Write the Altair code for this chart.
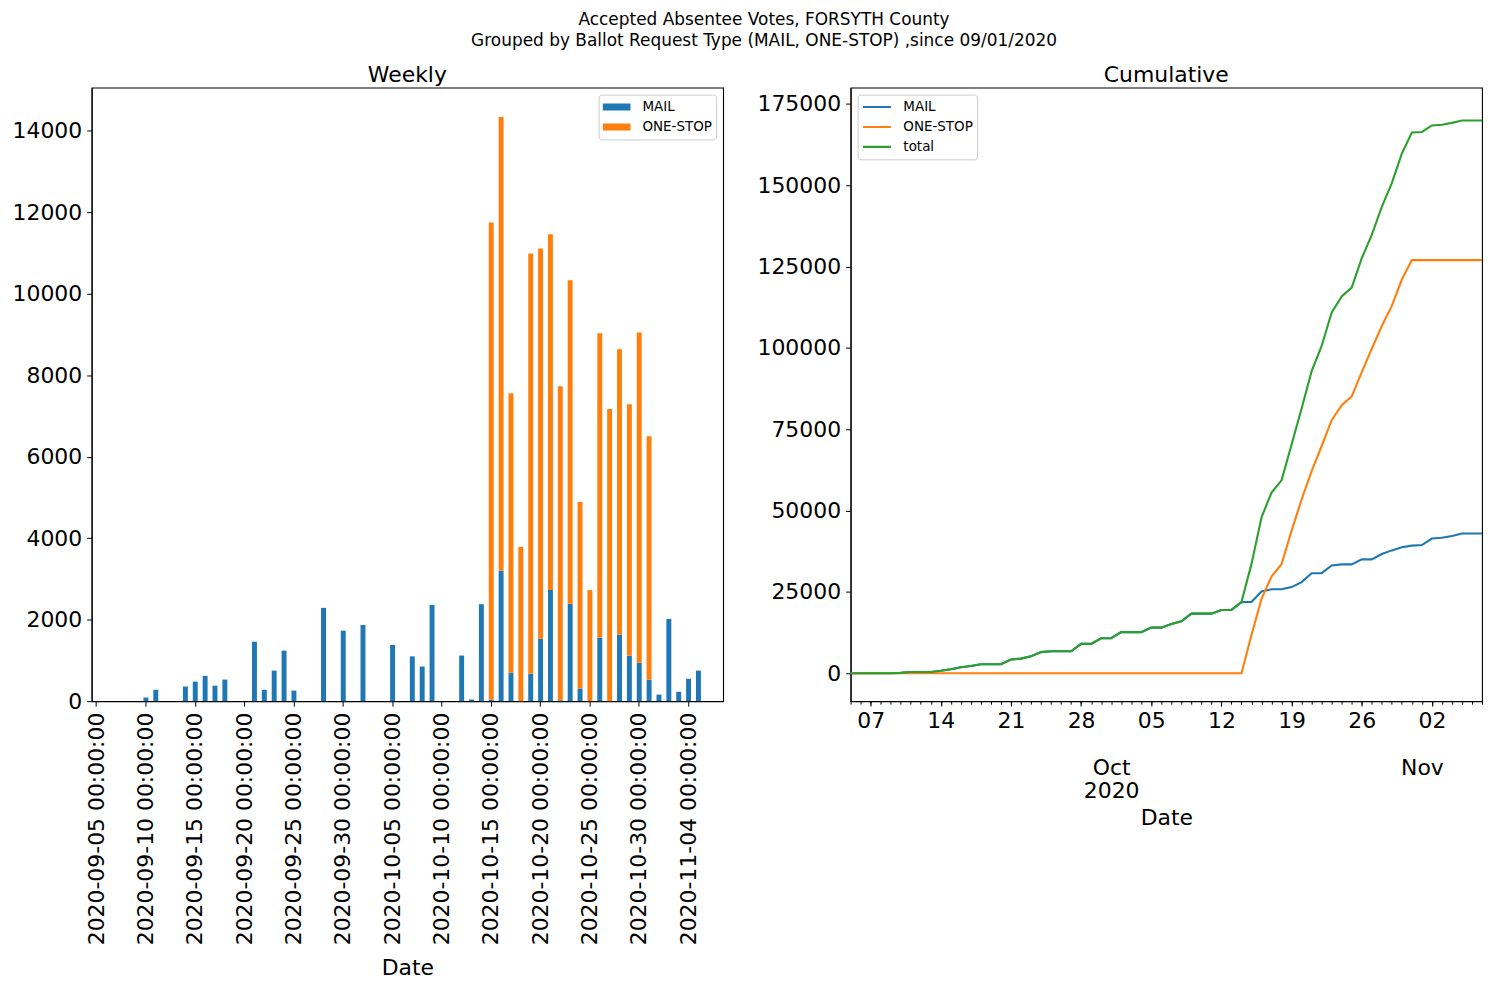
import altair as alt
import pandas as pd

FONT = "DejaVu Sans"

# ---- data -------------------------------------------------------------
dates = [d.strftime("%Y-%m-%d") for d in pd.date_range("2020-09-05", "2020-11-07", freq="D")]

mail = [
    0, 0, 0, 0, 0, 90, 280, 0, 0, 360,          # 09-05 .. 09-14
    480, 620, 380, 530, 0, 0, 1460, 280, 750, 1240,  # 09-15 .. 09-24
    260, 0, 0, 2290, 0, 1730, 0, 1870, 0, 0,       # 09-25 .. 10-04
    1380, 0, 1100, 850, 2360, 0, 0, 1120, 40, 2380,  # 10-05 .. 10-14
    40, 3200, 700, 0, 670, 1530, 2730, 20, 2390, 310,  # 10-15 .. 10-24
    0, 1560, 0, 1630, 1120, 940, 530, 160, 2020, 230,  # 10-25 .. 11-03
    550, 750, 0, 0,                                # 11-04 .. 11-07
]
one_stop = [
    0, 0, 0, 0, 0, 0, 0, 0, 0, 0,
    0, 0, 0, 0, 0, 0, 0, 0, 0, 0,
    0, 0, 0, 0, 0, 0, 0, 0, 0, 0,
    0, 0, 0, 0, 0, 0, 0, 0, 0, 0,
    11710, 11140, 6860, 3790, 10320, 9580, 8730, 7710, 7940, 4580,
    2730, 7470, 7170, 7010, 6170, 8110, 5970, 0, 0, 0,
    0, 0, 0, 0,
]

bar_series = ["MAIL", "ONE-STOP"]
line_series = ["MAIL", "ONE-STOP", "total"]
bar_colors = ["#1f77b4", "#ff7f0e"]
line_colors = ["#1f77b4", "#ff7f0e", "#2ca02c"]

labels_all = [d + " 00:00:00" for d in dates]
tick_labels = [labels_all[i] for i in range(0, len(labels_all), 5)]
y_ticks_left = [0, 2000, 4000, 6000, 8000, 10000, 12000, 14000]
y_ticks_right = [0, 25000, 50000, 75000, 100000, 125000, 150000, 175000]

df = pd.DataFrame({
    "label": labels_all,
    "date": [d + "T00:00:00" for d in dates],
    "MAIL": mail,
    "ONE-STOP": one_stop,
})


def dt(s):
    y, m, d = (int(v) for v in s.split("-"))
    return alt.DateTime(year=y, month=m, date=d)


mondays = [dt(s) for s in ["2020-09-07", "2020-09-14", "2020-09-21", "2020-09-28",
                           "2020-10-05", "2020-10-12", "2020-10-19", "2020-10-26", "2020-11-02"]]
daily = [dt(s) for s in dates]
month_starts = [dt("2020-10-01"), dt("2020-11-01")]
xdomain = [dt(dates[0]), dt(dates[-1])]

# ---- left: daily stacked bars -------------------------------------------
bar_legend_symbol = "M-1,-0.25L1,-0.25L1,0.25L-1,0.25Z"

left = (
    alt.Chart(df)
    .transform_fold(bar_series, as_=["type", "value"])
    .transform_calculate(ord="datum.type === 'MAIL' ? 0 : 1")
    .mark_bar()
    .encode(
        x=alt.X("label:O", sort=labels_all,
                scale=alt.Scale(paddingInner=0.5, paddingOuter=0.25),
                axis=alt.Axis(values=tick_labels, labelAngle=270, orient="bottom",
                              title="Date", tickSize=5, labelPadding=6, titlePadding=57,
                              labelOverlap=False, labelLimit=400)),
        y=alt.Y("value:Q", stack="zero",
                scale=alt.Scale(domain=[0, 15060], nice=False),
                axis=alt.Axis(values=y_ticks_left, format="d", title=None,
                              tickSize=5, labelPadding=5)),
        color=alt.Color("type:N",
                        scale=alt.Scale(domain=bar_series, range=bar_colors),
                        legend=alt.Legend(title=None, orient="top-right", offset=7,
                                          fillColor="white", strokeColor="#cccccc",
                                          cornerRadius=3, padding=4,
                                          symbolType=bar_legend_symbol, symbolSize=784,
                                          symbolStrokeWidth=0, clipHeight=17, rowPadding=3,
                                          labelFontSize=13.5, labelFont=FONT,
                                          labelColor="black", labelOffset=12)),
        order=alt.Order("ord:Q", sort="ascending"),
    )
    .properties(width=634, height=616,
                title=alt.TitleParams("Weekly", fontSize=22, font=FONT,
                                      fontWeight="normal", offset=1))
)

# ---- right: cumulative lines --------------------------------------------
xscale = alt.Scale(domain=xdomain)

base = (
    alt.Chart(df)
    .transform_calculate(total="datum.MAIL + datum['ONE-STOP']")
    .transform_fold(line_series, as_=["key", "value"])
    .transform_window(cum="sum(value)", groupby=["key"],
                      sort=[alt.SortField("date", order="ascending")],
                      frame=[None, 0])
)

lines = base.mark_line(strokeWidth=2.1).encode(
    x=alt.X("date:T", scale=xscale,
            axis=alt.Axis(values=mondays, format="%d", orient="bottom", tickSize=5,
                          labelPadding=4, title=None)),
    y=alt.Y("cum:Q", scale=alt.Scale(domain=[-8600, 180000], nice=False, zero=False),
            axis=alt.Axis(values=y_ticks_right, format="d", title=None,
                          tickSize=5, labelPadding=5)),
    color=alt.Color("key:N",
                    scale=alt.Scale(domain=line_series, range=line_colors),
                    legend=alt.Legend(title=None, orient="top-left", offset=7,
                                      fillColor="white", strokeColor="#cccccc",
                                      cornerRadius=3, padding=4,
                                      symbolType="stroke", symbolSize=784,
                                      symbolStrokeWidth=2.1, clipHeight=17, rowPadding=3,
                                      labelFontSize=13.5, labelFont=FONT,
                                      labelColor="black", labelOffset=11)),
)

minor = alt.Chart(df).mark_point(opacity=0, size=1).encode(
    x=alt.X("date:T", scale=xscale,
            axis=alt.Axis(values=daily, labels=False, tickSize=3, orient="bottom",
                          title=None, domain=False)),
    y=alt.value(300),
)

months = alt.Chart(df).mark_point(opacity=0, size=1).encode(
    x=alt.X("date:T", scale=xscale,
            axis=alt.Axis(values=month_starts, format="%b", ticks=False, tickSize=0,
                          orient="bottom", labelPadding=57, title=None, domain=False)),
    y=alt.value(300),
)

years = alt.Chart(df).mark_point(opacity=0, size=1).encode(
    x=alt.X("date:T", scale=xscale,
            axis=alt.Axis(values=[month_starts[0]], format="%Y", ticks=False, tickSize=0,
                          orient="bottom", labelPadding=80, title="Date", titlePadding=6,
                          domain=False)),
    y=alt.value(300),
)

right = (
    alt.layer(lines, minor, months, years)
    .resolve_axis(x="independent")
    .properties(width=634, height=616,
                title=alt.TitleParams("Cumulative", fontSize=22, font=FONT,
                                      fontWeight="normal", offset=1))
)

chart = (
    alt.hconcat(left, right, spacing=32)
    .resolve_scale(color="independent")
    .properties(
        title=alt.TitleParams(
            ["Accepted Absentee Votes, FORSYTH County",
             "Grouped by Ballot Request Type (MAIL, ONE-STOP) ,since 09/01/2020"],
            fontSize=17, font=FONT, fontWeight="normal", anchor="middle",
            lineHeight=21, offset=8, dx=15, dy=-5, color="black"),
        padding={"left": 3, "top": 1, "right": 0, "bottom": 0},
    )
    .configure(font=FONT)
    .configure_view(stroke="black", strokeWidth=1.1)
    .configure_axis(labelFont=FONT, labelFontSize=22, labelColor="black",
                    titleFont=FONT, titleFontSize=22, titleFontWeight="normal",
                    titleColor="black", domainColor="black", tickColor="black",
                    grid=False, tickWidth=1, domainWidth=1.1)
    .configure_title(color="black")
)

chart.save("out.html", embed_options={"renderer": "svg", "actions": False})
